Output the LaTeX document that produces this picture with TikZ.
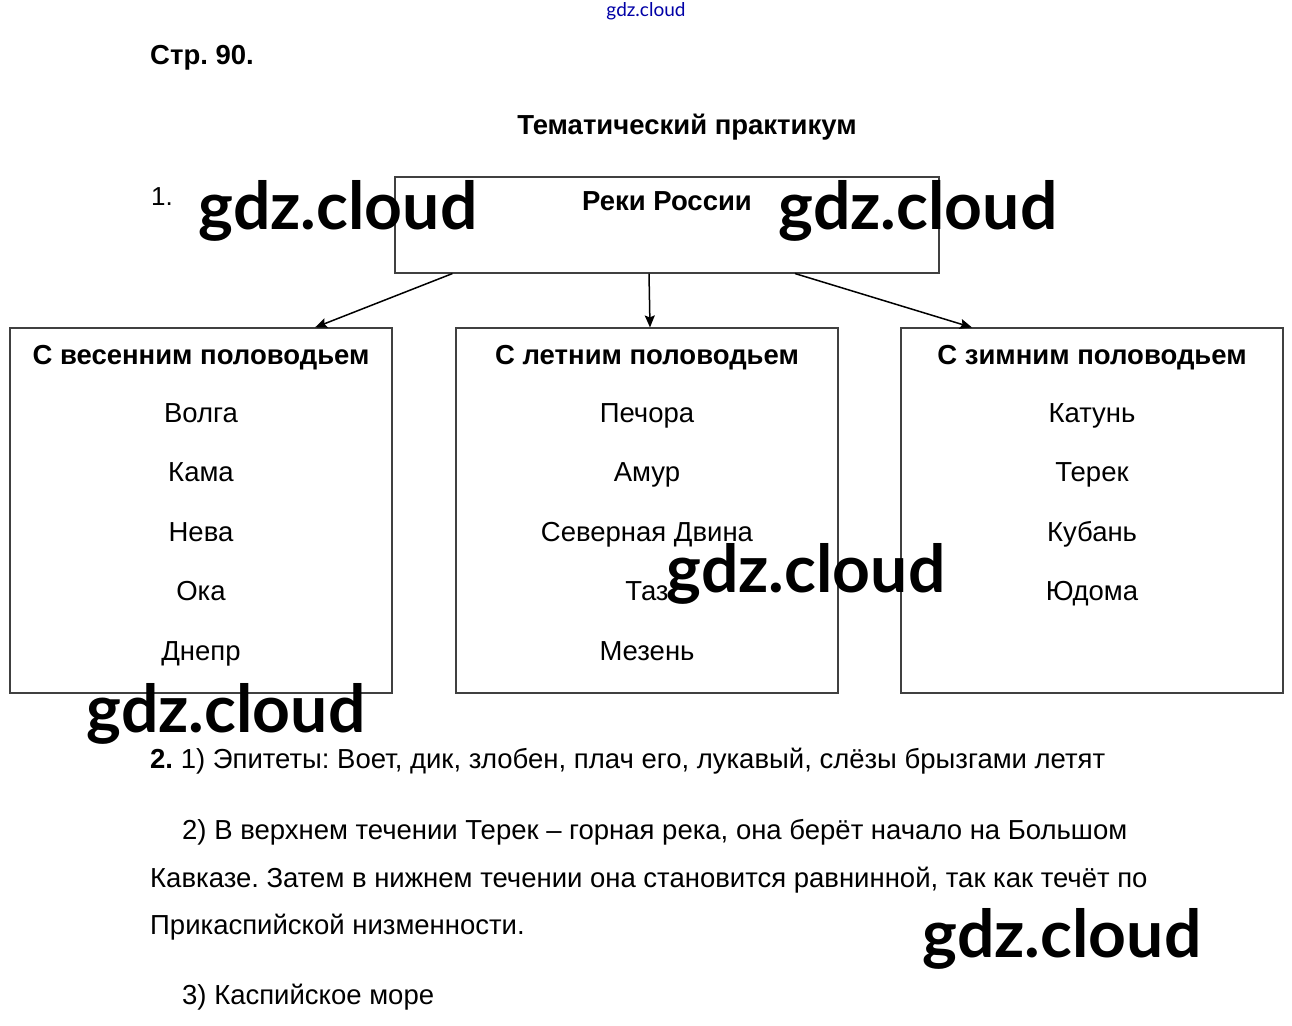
\documentclass[tikz,border=0pt]{standalone}
\usepackage{fontspec}
\setmainfont{Liberation Sans}
\newfontfamily\stampfont{Lato}
\usetikzlibrary{arrows.meta}
\frenchspacing

\begin{document}
\begin{tikzpicture}[x=1pt, y=-1pt,
    panel/.style={rectangle, draw=black!75, line width=1.1pt,
                minimum width=382pt, minimum height=365pt, inner sep=0pt},
    head/.style={rectangle, draw=black!75, line width=1.1pt,
                minimum width=544pt, minimum height=96pt, inner sep=0pt},
    title/.style={anchor=base, inner sep=0pt, font=\fontsize{27.5}{32}\selectfont\bfseries},
    river/.style={anchor=base, inner sep=0pt, font=\fontsize{27.5}{32}\selectfont},
    answer/.style={anchor=base west, inner sep=0pt, font=\fontsize{27.5}{32}\selectfont},
    stamp/.style={inner sep=0pt, font=\stampfont\fontsize{66}{72}\selectfont\bfseries},
    arr/.style={-{Stealth[length=12pt, width=10pt, inset=2pt]}, line width=1.5pt},
]
\useasboundingbox (0,0) rectangle (1292,1025);

% --- Header ---
\node[inner sep=0pt, text=blue!65!black, font=\stampfont\fontsize{19}{20}\selectfont] (site) at (646,11) {gdz.cloud};
\node[title, anchor=base west] (page) at (150,65) {Стр. 90.};
\node[title] (topic) at (687,134) {Тематический практикум};
\node[title, anchor=base west, font=\fontsize{26}{30}\selectfont] (num1) at (151,205) {1.};

% --- Boxes ---
\node[head] (rivers) at (667,225) {};
\node[title] (riverst) at (667,210) {Реки России};
\node[panel] (spring) at (201,510.5) {};
\node[panel] (summer) at (647,510.5) {};
\node[panel] (winter) at (1092,510.5) {};

\draw[arr] ([xshift=58pt]rivers.south west) -- ([xshift=114pt]spring.north);
\draw[arr] ([xshift=-18pt]rivers.south) -- ([xshift=3pt]summer.north);
\draw[arr] ([xshift=128pt]rivers.south) -- ([xshift=-120pt]winter.north);

% --- Spring ---
\node[title] (springt) at (201,364) {С весенним половодьем};
\node[river] (volga) at (201,422) {Волга};
\node[river] (kama) at (201,481) {Кама};
\node[river] (neva) at (201,541) {Нева};
\node[river] (oka) at (201,600) {Ока};
\node[river] (dnepr) at (201,660) {Днепр};

% --- Summer ---
\node[title] (summert) at (647,364) {С летним половодьем};
\node[river] (pechora) at (647,422) {Печора};
\node[river] (amur) at (647,481) {Амур};
\node[river] (dvina) at (647,541) {Северная Двина};
\node[river] (taz) at (647,600) {Таз};
\node[river] (mezen) at (647,660) {Мезень};

% --- Winter ---
\node[title] (wintert) at (1092,364) {С зимним половодьем};
\node[river] (katun) at (1092,422) {Катунь};
\node[river] (terek) at (1092,481) {Терек};
\node[river] (kuban) at (1092,541) {Кубань};
\node[river] (yudoma) at (1092,600) {Юдома};

% --- Answers ---
\node[answer] (ans1) at (150,768) {\textbf{2.} 1) Эпитеты: Воет, дик, злобен, плач его, лукавый, слёзы брызгами летят};
\node[answer] (ans2) at (182,839) {2) В верхнем течении Терек – горная река, она берёт начало на Большом};
\node[answer] (ans2b) at (150,887) {Кавказе. Затем в нижнем течении она становится равнинной, так как течёт по};
\node[answer] (ans2c) at (150,934) {Прикаспийской низменности.};
\node[answer] (ans3) at (182,1004) {3) Каспийское море};

% --- Watermarks ---
\node[stamp] (wm1) at (338,211) {gdz.cloud};
\node[stamp] (wm2) at (918,211) {gdz.cloud};
\node[stamp] (wm3) at (806,574) {gdz.cloud};
\node[stamp] (wm4) at (226,714) {gdz.cloud};
\node[stamp] (wm5) at (1062,939) {gdz.cloud};

\end{tikzpicture}
\end{document}
